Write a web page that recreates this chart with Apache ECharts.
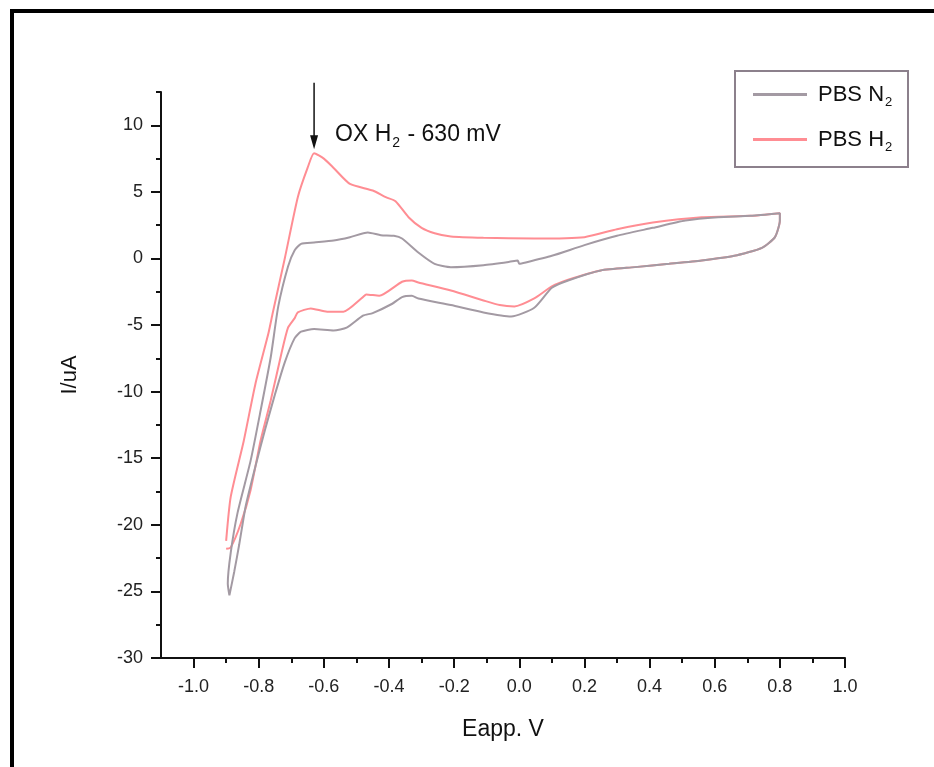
<!DOCTYPE html>
<html>
<head>
<meta charset="utf-8">
<script src="https://cdn.jsdelivr.net/npm/echarts@6/dist/echarts.min.js"></script>
<style>html,body{margin:0;padding:0;background:#fff}#c{width:934px;height:767px}</style>
</head>
<body>
<div id="c"></div>
<script>
// ---- data (E in V, I in uA), cyclic voltammograms as closed loops ----
const n2E = [-0.89,-0.895,-0.886,-0.865,-0.825,-0.794,-0.763,-0.74,-0.71,-0.69,-0.67,-0.63,-0.57,-0.52,-0.465,-0.425,-0.385,-0.36,-0.31,-0.26,-0.21,-0.11,-0.03,-0.005,0.0,0.02,0.1,0.2,0.3,0.41,0.51,0.61,0.71,0.8,
             0.8,0.785,0.745,0.66,0.56,0.46,0.355,0.25,0.15,0.1,0.046,-0.025,-0.11,-0.21,-0.31,-0.33,-0.36,-0.39,-0.45,-0.48,-0.53,-0.57,-0.63,-0.67,-0.69,-0.72,-0.75,-0.78,-0.81,-0.84,-0.86,-0.875,-0.89];
const n2I = [-25.3,-24.4,-22.1,-19.1,-15.2,-11.4,-7.4,-3.6,-0.6,0.6,1.1,1.2,1.35,1.6,1.95,1.75,1.7,1.5,0.45,-0.4,-0.65,-0.5,-0.25,-0.15,-0.4,-0.3,0.2,1.0,1.7,2.3,2.85,3.1,3.2,3.4,
             2.85,1.6,0.8,0.2,-0.15,-0.4,-0.65,-0.9,-1.65,-2.2,-3.7,-4.35,-4.05,-3.5,-3.0,-2.8,-2.9,-3.4,-4.1,-4.3,-5.2,-5.4,-5.3,-5.5,-6.0,-7.8,-10.2,-12.8,-15.6,-18.6,-21.5,-23.5,-25.3];

const h2E = [-0.9,-0.886,-0.846,-0.81,-0.77,-0.757,-0.72,-0.68,-0.65,-0.63,-0.6,-0.57,-0.52,-0.45,-0.41,-0.38,-0.34,-0.30,-0.26,-0.21,-0.11,0.046,0.2,0.30,0.41,0.56,0.71,0.8,
             0.8,0.785,0.745,0.66,0.56,0.46,0.355,0.25,0.15,0.1,0.046,-0.015,-0.06,-0.11,-0.21,-0.31,-0.33,-0.36,-0.43,-0.47,-0.48,-0.54,-0.59,-0.64,-0.68,-0.69,-0.71,-0.73,-0.763,-0.794,-0.825,-0.855,-0.886,-0.9];
const h2I = [-21.2,-17.9,-13.7,-9.4,-5.6,-4.1,0.0,4.6,6.8,7.9,7.5,6.8,5.6,5.1,4.6,4.3,3.1,2.3,1.9,1.65,1.55,1.5,1.6,2.2,2.7,3.1,3.2,3.4,
             2.85,1.6,0.8,0.2,-0.15,-0.4,-0.65,-0.9,-1.6,-2.1,-3.0,-3.6,-3.5,-3.15,-2.4,-1.8,-1.65,-1.75,-2.8,-2.7,-2.9,-4.0,-4.0,-3.75,-4.05,-4.5,-5.2,-7.1,-10.65,-13.65,-17.4,-19.9,-21.7,-21.8];

const xMajor = [-1.0,-0.8,-0.6,-0.4,-0.2,0.0,0.2,0.4,0.6,0.8,1.0];
const xMinor = [-0.9,-0.7,-0.5,-0.3,-0.1,0.1,0.3,0.5,0.7,0.9];
const yMajor = [-30,-25,-20,-15,-10,-5,0,5,10];
const yMinor = [-27.5,-22.5,-17.5,-12.5,-7.5,-2.5,2.5,7.5,12.5];

const seriesNames = ['PBS N2','PBS H2'];
const annotationE = -0.63, annotationTop = 13.2, annotationTip = 8.2;

const FONT = 'Liberation Sans, Arial, sans-serif';
const pairs = (xs, ys) => xs.map((x, i) => [x, ys[i]]);

const chart = echarts.init(document.getElementById('c'), null, {renderer: 'canvas'});
const axisCommon = {
  min: -1.1, max: 1.0
};
chart.setOption({
  animation: false,
  backgroundColor: '#fff',
  grid: {left: 161, right: 89, top: 92, bottom: 109},
  xAxis: [
    Object.assign({
      type: 'value', position: 'bottom',
      name: 'Eapp. V', nameLocation: 'middle', nameGap: 60,
      nameTextStyle: {fontFamily: FONT, fontSize: 23, color: '#111'},
      axisLine: {show: true, onZero: false, lineStyle: {color: '#111', width: 2}},
      axisTick: {show: true, inside: false, length: 10, lineStyle: {color: '#111', width: 2}, customValues: xMajor},
      axisLabel: {fontFamily: FONT, fontSize: 18, color: '#222', margin: 20, customValues: xMajor,
                  formatter: v => v.toFixed(1)},
      splitLine: {show: false}
    }, axisCommon),
    Object.assign({
      type: 'value', position: 'bottom', offset: 0,
      axisLine: {show: false, onZero: false},
      axisTick: {show: true, inside: false, length: 5, lineStyle: {color: '#111', width: 2}, customValues: xMinor},
      axisLabel: {show: false},
      splitLine: {show: false}
    }, axisCommon)
  ],
  yAxis: [
    {
      type: 'value', min: -30, max: 12.5, position: 'left',
      name: 'I/uA', nameLocation: 'middle', nameGap: 80, nameRotate: 90,
      nameTextStyle: {fontFamily: FONT, fontSize: 22, color: '#111'},
      axisLine: {show: true, onZero: false, lineStyle: {color: '#111', width: 2}},
      axisTick: {show: true, inside: false, length: 10, lineStyle: {color: '#111', width: 2}, customValues: yMajor},
      axisLabel: {fontFamily: FONT, fontSize: 18, color: '#222', margin: 18, customValues: yMajor},
      splitLine: {show: false}
    },
    {
      type: 'value', min: -30, max: 12.5, position: 'left', offset: 0,
      axisLine: {show: false, onZero: false},
      axisTick: {show: true, inside: false, length: 5, lineStyle: {color: '#111', width: 2}, customValues: yMinor},
      axisLabel: {show: false},
      splitLine: {show: false}
    }
  ],
  legend: {
    orient: 'vertical', left: 748, top: 75, itemGap: 16,
    itemWidth: 54, itemHeight: 3, icon: 'rect',
    data: seriesNames,
    formatter: n => n === 'PBS N2' ? '{a|PBS N}{s|2}' : '{a|PBS H}{s|2}',
    textStyle: {
      fontFamily: FONT, color: '#111', padding: [0, 0, 0, 6],
      rich: {
        a: {fontFamily: FONT, fontSize: 22, color: '#111', lineHeight: 28},
        s: {fontFamily: FONT, fontSize: 13, color: '#111', lineHeight: 28, padding: [16, 0, 0, 1]}
      }
    }
  },
  series: [
    {name: seriesNames[0], type: 'line', data: pairs(n2E, n2I), showSymbol: false, symbol: 'none',
     lineStyle: {color: '#a39aa3', width: 2}, itemStyle: {color: '#a39aa3'}, smooth: 0.2, z: 3},
    {name: seriesNames[1], type: 'line', data: pairs(h2E, h2I), showSymbol: false, symbol: 'none',
     lineStyle: {color: '#ff8d93', width: 2}, itemStyle: {color: '#ff8d93'}, smooth: 0.2, z: 2}
  ]
});

// annotation + frame + legend box
const px = chart.convertToPixel({xAxisIndex: 0}, annotationE);
const pyTop = chart.convertToPixel({yAxisIndex: 0}, annotationTop);
const pyTip = chart.convertToPixel({yAxisIndex: 0}, annotationTip);
chart.setOption({
  graphic: [
    {type: 'rect', shape: {x: 12, y: 11, width: 930, height: 770}, style: {fill: 'none', stroke: '#000', lineWidth: 4}, z: 0},
    {type: 'rect', shape: {x: 735, y: 71, width: 173, height: 96}, style: {fill: '#fff', stroke: '#8c808c', lineWidth: 2}, z: -1},
    {type: 'line', shape: {x1: px, y1: pyTop, x2: px, y2: pyTip - 12}, style: {stroke: '#111', lineWidth: 1.5}},
    {type: 'polygon', shape: {points: [[px - 4, pyTip - 14], [px + 4, pyTip - 14], [px, pyTip]]}, style: {fill: '#111'}},
    {type: 'text', x: px + 21, y: pyTop + 66, style: {
      text: '{a|OX H}{s|2}{a| - 630 mV}', verticalAlign: 'bottom',
      rich: {
        a: {fontFamily: FONT, fontSize: 23, fill: '#111', lineHeight: 28},
        s: {fontFamily: FONT, fontSize: 14, fill: '#111', lineHeight: 28, padding: [16, 1, 0, 1]}
      }
    }}
  ]
});
</script>
</body>
</html>
